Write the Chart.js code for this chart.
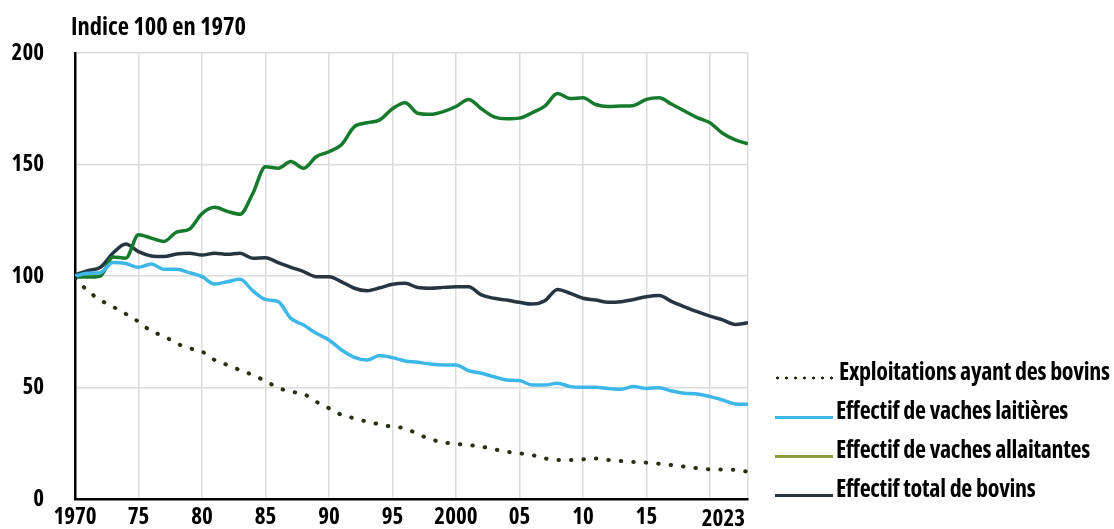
<!DOCTYPE html>
<html lang="fr">
<head>
    <meta charset="UTF-8">
    <title>Bovins, indice 100 en 1970</title>
    <script src="https://cdn.jsdelivr.net/npm/chart.js"></script>
    <style>
        body { margin: 0; background: #fff; }
        #wrap { position: relative; width: 1114px; height: 529px; }
        .cond { font-family: "Open Sans", sans-serif; font-stretch: condensed; font-weight: bold; color: #000; }
        #title { position: absolute; left: 71px; top: 9px; font-size: 24.5px; }
        #legend { position: absolute; left: 775px; top: 351px; font-size: 24px; letter-spacing: -0.3px; }
        .item { height: 39px; line-height: 39px; white-space: nowrap; }
        .item .mark { display: inline-block; width: 58px; margin-right: 3px; vertical-align: baseline; }
        .item .dots {
            display: inline-block; width: 63px; height: 4px; margin-right: 1px; vertical-align: baseline;
            background-image: radial-gradient(circle, #263012 1.3px, transparent 1.8px);
            background-size: 9px 4px; background-position: -2px 0;
        }
    </style>
</head>
<body>
<div id="wrap">
    <canvas id="chart" width="1114" height="529"></canvas>
    <div id="title" class="cond">Indice 100 en 1970</div>
    <div id="legend" class="cond"></div>
</div>
<script>
    // années 1970 -> 2023
    const years = [];
    for (let y = 1970; y <= 2023; y++) years.push(y);

    const exploitations = [99, 93.4, 89.2, 86.2, 83, 79.5, 75.3, 73, 69.8, 67.6,
        66.1, 62.3, 60.1, 57.8, 55.6, 52.9, 49.9, 48.1, 47.1, 43.6,
        40.7, 37.7, 36.2, 34.7, 33.5, 32.4, 31.7, 29.1, 26.8, 25.4,
        24.7, 24.2, 23.5, 22.3, 21.2, 20.5, 19.7, 18.2, 17.5, 17.5,
        17.8, 18.2, 17.5, 17, 16.6, 16.3, 15.8, 15.2, 14.5, 13.8,
        13.3, 13.2, 13.1, 12.2];
    const laitieres = [100, 101.2, 101.5, 106, 105.6, 103.9, 105.4, 103, 103, 101.5,
        99.7, 96.4, 97.4, 98.5, 93.4, 89.5, 88.5, 81, 78, 74.3,
        71.3, 66.8, 63.5, 62.3, 64.4, 63.4, 61.9, 61.3, 60.5, 60.1,
        60.1, 57.5, 56.4, 54.8, 53.4, 53.1, 51.1, 51.1, 51.9, 50.4,
        50.1, 50.1, 49.6, 49.2, 50.4, 49.6, 49.9, 48.4, 47.4, 47.1,
        45.9, 44.4, 42.6, 42.5];
    const allaitantes = [99.5, 99.5, 100, 108.5, 108, 118.5, 117, 115.5, 119.7, 121,
        128, 130.8, 129, 127.7, 137, 149, 148.3, 151.3, 148.3, 153.5,
        155.7, 159, 167, 168.7, 170, 175, 177.7, 173, 172.5, 173.7,
        176, 179.2, 175, 171.4, 170.5, 170.8, 173.2, 176.2, 181.8, 179.6,
        179.9, 176.9, 176, 176.2, 176.5, 179.2, 179.9, 177, 174, 171,
        168.7, 164, 161, 159.3];
    const totalBovins = [100.5, 102.4, 103.9, 110.3, 114.3, 110.9, 109, 108.7, 109.9, 110.2,
        109.4, 110.2, 109.7, 110.2, 108, 108.2, 106, 103.9, 102, 99.7,
        99.7, 97.4, 94.5, 93.4, 94.7, 96.3, 96.7, 94.8, 94.5, 94.9,
        95.2, 95.2, 91.5, 90, 89.2, 88.2, 87.4, 88.9, 94, 92.2,
        90, 89.2, 88.2, 88.5, 89.5, 90.7, 91.2, 88.5, 86.2, 84,
        82, 80.3, 78.3, 79];

    const xTicks = [1970, 1975, 1980, 1985, 1990, 1995, 2000, 2005, 2010, 2015, 2020, 2023];
    const yTicks = [0, 50, 100, 150, 200];

    const seriesNames = ['Exploitations ayant des bovins', 'Effectif de vaches laitières',
        'Effectif de vaches allaitantes', 'Effectif total de bovins'];
    const lineColors = ['#263012', '#3db6e8', '#167a2c', '#253640'];
    const legendColors = ['#263012', '#3db6e8', '#8e9a3b', '#253640'];

    const FONT = '"Open Sans", sans-serif';
    const tickFont = { family: FONT, size: 23, weight: 'bold condensed' };

    function pts(vals) {
        return vals.map((v, i) => ({ x: years[i], y: v }));
    }

    function tickLabel(v) {
        if (v === 1970 || v === 2000) return String(v);
        if (v === 2020 || v === 2023) return '';
        return String(v).slice(2);
    }

    // "2023" aligné à droite de l'axe
    const lastLabel = {
        id: 'lastLabel',
        afterDraw(chart) {
            const sx = chart.scales.x;
            const ctx = chart.ctx;
            ctx.save();
            ctx.font = 'bold condensed 23px ' + FONT;
            ctx.fillStyle = '#000';
            ctx.textAlign = 'right';
            ctx.textBaseline = 'middle';
            ctx.fillText('2023', sx.getPixelForValue(2023) - 3, sx.top + 20);
            ctx.restore();
        }
    };

    const ctx = document.getElementById('chart').getContext('2d');
    new Chart(ctx, {
        type: 'line',
        data: {
            datasets: [
                {
                    label: seriesNames[0], data: pts(exploitations),
                    borderColor: lineColors[0], borderWidth: 4,
                    borderDash: [0.5, 12], borderCapStyle: 'round'
                },
                { label: seriesNames[1], data: pts(laitieres), borderColor: lineColors[1], borderWidth: 3.5 },
                { label: seriesNames[2], data: pts(allaitantes), borderColor: lineColors[2], borderWidth: 3.5 },
                { label: seriesNames[3], data: pts(totalBovins), borderColor: lineColors[3], borderWidth: 3.5 }
            ]
        },
        options: {
            responsive: false,
            animation: false,
            layout: { padding: { top: 53, right: 366, left: 0, bottom: 0 } },
            elements: {
                point: { radius: 0 },
                line: { cubicInterpolationMode: 'monotone' }
            },
            plugins: { legend: { display: false }, tooltip: { enabled: false } },
            scales: {
                x: {
                    type: 'linear', min: 1970, max: 2023,
                    afterBuildTicks: (s) => { s.ticks = xTicks.map(v => ({ value: v })); },
                    afterFit: (s) => { s.height = 30; },
                    grid: { color: '#dcdcdc', lineWidth: 1.5, drawTicks: false },
                    border: { color: '#000', width: 2.5 },
                    ticks: {
                        callback: tickLabel, autoSkip: false, maxRotation: 0, padding: 5,
                        color: '#000', font: tickFont
                    }
                },
                y: {
                    min: 0, max: 200,
                    afterBuildTicks: (s) => { s.ticks = yTicks.map(v => ({ value: v })); },
                    afterFit: (s) => { s.width = 75; s.paddingTop = 0; s.paddingBottom = 0; },
                    grid: { color: '#dcdcdc', lineWidth: 1.5, drawTicks: false },
                    border: { color: '#000', width: 2.5 },
                    ticks: { padding: 31, color: '#000', font: tickFont }
                }
            }
        },
        plugins: [lastLabel]
    });

    // légende
    const legend = document.getElementById('legend');
    seriesNames.forEach((name, i) => {
        const row = document.createElement('div');
        row.className = 'item';
        const mark = document.createElement('span');
        if (i === 0) {
            mark.className = 'dots';
        } else {
            mark.className = 'mark';
            mark.style.borderBottom = '3px solid ' + legendColors[i];
        }
        row.appendChild(mark);
        row.appendChild(document.createTextNode(name));
        legend.appendChild(row);
    });
</script>
</body>
</html>
